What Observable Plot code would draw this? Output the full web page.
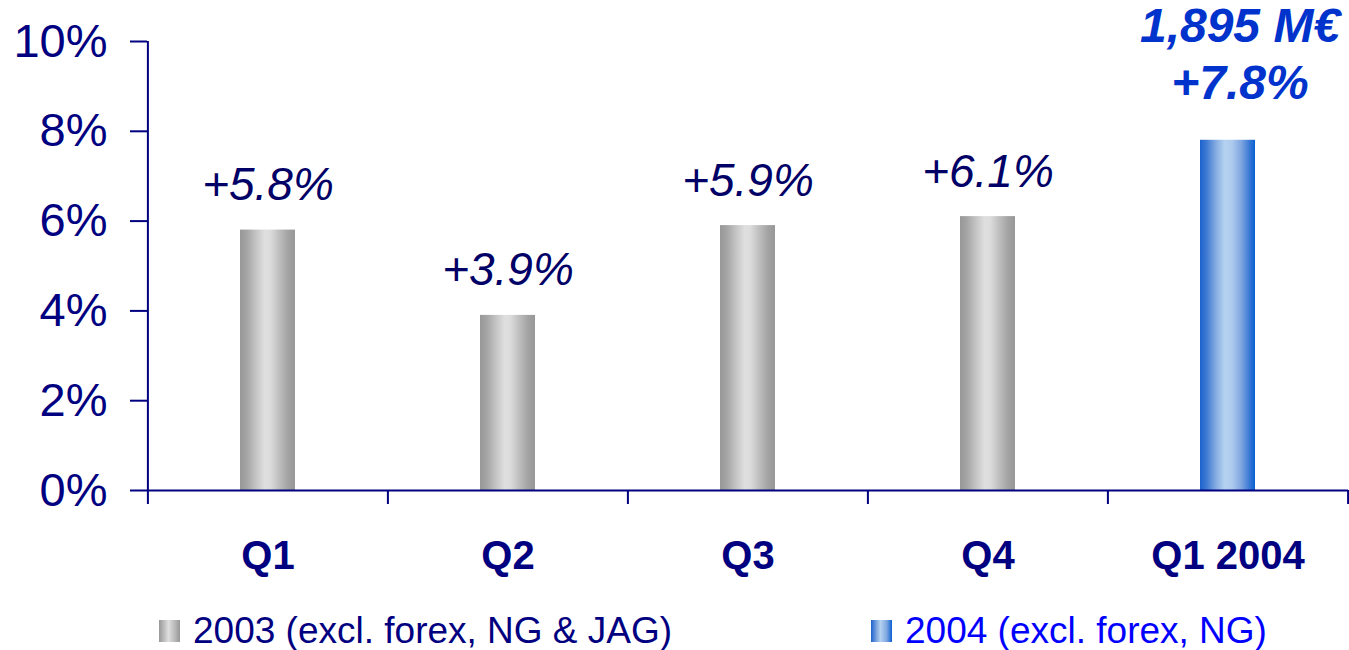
<!DOCTYPE html>
<html>
<head>
<meta charset="utf-8">
<script src="https://cdn.jsdelivr.net/npm/d3@7"></script>
<script src="https://cdn.jsdelivr.net/npm/@observablehq/plot@0.6"></script>
<style>
  html, body { margin: 0; padding: 0; background: #fff; }
  #wrap { position: relative; width: 1349px; height: 650px; overflow: hidden; font-family: "Liberation Sans", Arial, sans-serif; }
  .leg { position: absolute; top: 612px; height: 37px; line-height: 37px; font-size: 37px; white-space: nowrap; }
  .sw { position: absolute; top: 620px; width: 21px; height: 22px; }
</style>
</head>
<body>
<div id="wrap"></div>
<script>
// ---- data ----
const categories = ["Q1", "Q2", "Q3", "Q4", "Q1 2004"];
const values = [5.8, 3.9, 5.9, 6.1, 7.8];
const series = ["2003", "2003", "2003", "2003", "2004"];
const valueLabels = ["+5.8%", "+3.9%", "+5.9%", "+6.1%", "1,895 M€\n+7.8%"];
const yTicks = [0, 2, 4, 6, 8, 10];
const legendLabels = ["2003 (excl. forex, NG & JAG)", "2004 (excl. forex, NG)"];

const data = categories.map((c, i) => ({cat: c, value: values[i], series: series[i], label: valueLabels[i]}));
const d2003 = data.filter(d => d.series === "2003");
const d2004 = data.filter(d => d.series === "2004");

const NAVY = "#000080";
const FONT = "Liberation Sans, Arial, sans-serif";
const W = 1349, H = 600, ML = 147, MR = 1;
const step = (W - ML - MR) / categories.length;

function defs() {
  const d = d3.create("svg:defs");
  const g = d.append("linearGradient").attr("id", "gGray").attr("x1", "0").attr("x2", "1").attr("y1", "0").attr("y2", "0");
  [[0, "#989898"], [0.12, "#a4a4a4"], [0.3, "#c6c6c6"], [0.45, "#dfdfdf"], [0.55, "#dcdcdc"], [0.72, "#bdbdbd"], [0.88, "#a2a2a2"], [1, "#979797"]]
    .forEach(([o, c]) => g.append("stop").attr("offset", o).attr("stop-color", c));
  const b = d.append("linearGradient").attr("id", "gBlue").attr("x1", "0").attr("x2", "1").attr("y1", "0").attr("y2", "0");
  [[0, "#1c62cc"], [0.12, "#3f7ad2"], [0.3, "#88aee2"], [0.45, "#b4d2f0"], [0.58, "#aecbee"], [0.75, "#7fa6e0"], [0.9, "#3a78d6"], [1, "#0a60d0"]]
    .forEach(([o, c]) => b.append("stop").attr("offset", o).attr("stop-color", c));
  return d.node();
}

const chart = Plot.plot({
  width: W,
  height: H,
  marginLeft: ML,
  marginRight: MR,
  marginTop: 41,
  marginBottom: 110,
  style: {fontFamily: FONT, background: "white", color: NAVY, overflow: "visible"},
  x: {domain: categories, paddingInner: 0.77, paddingOuter: 0.385, axis: null, label: null},
  y: {domain: [0, 10], axis: null, label: null},
  marks: [
    defs,
    Plot.barY(d2003, {x: "cat", y: "value", fill: "url(#gGray)"}),
    Plot.barY(d2004, {x: "cat", y: "value", fill: "url(#gBlue)"}),
    Plot.ruleY([0], {stroke: NAVY, strokeWidth: 2}),
    Plot.ruleX([categories[0]], {x: d => d, y1: 0, y2: 10, dx: -step / 2, stroke: NAVY, strokeWidth: 2}),
    Plot.ruleX(categories, {x: d => d, y1: 0, y2: 0, insetBottom: -14, dx: -step / 2, stroke: NAVY, strokeWidth: 2}),
    Plot.ruleX([categories[categories.length - 1]], {x: d => d, y1: 0, y2: 0, insetBottom: -14, dx: step / 2, stroke: NAVY, strokeWidth: 2}),
    Plot.axisY({ticks: yTicks, tickFormat: d => d + "%", tickSize: 17, tickPadding: 23, fontSize: 47, stroke: NAVY, fill: NAVY, strokeWidth: 2, label: null}),
    Plot.axisX({tickSize: 0, tickPadding: 50, fontSize: 40, fontWeight: "bold", fill: NAVY, label: null}),
    Plot.text(d2003, {x: "cat", y: "value", text: "label", dy: -30, lineAnchor: "bottom", fontSize: 46, fontStyle: "italic", fill: "#000066"}),
    Plot.text(d2004, {x: "cat", y: "value", text: "label", dy: -41, dx: 12, lineAnchor: "bottom", lineHeight: 1.19, fontSize: 48, fontStyle: "italic", fontWeight: "bold", fill: "#0033cc"})
  ]
});

const wrap = document.getElementById("wrap");
wrap.appendChild(chart);

// legend below the chart
const legendItems = [
  {label: legendLabels[0], color: NAVY, grad: "linear-gradient(to right,#989898,#c6c6c6 30%,#dfdfdf 45%,#bdbdbd 72%,#979797)", sx: 159, tx: 193},
  {label: legendLabels[1], color: "#0000ff", grad: "linear-gradient(to right,#1c62cc,#88aee2 30%,#b4d2f0 45%,#7fa6e0 75%,#0a60d0)", sx: 871, tx: 905}
];
legendItems.forEach(it => {
  const s = document.createElement("div");
  s.className = "sw";
  s.style.left = it.sx + "px";
  s.style.background = it.grad;
  wrap.appendChild(s);
  const t = document.createElement("div");
  t.className = "leg";
  t.style.left = it.tx + "px";
  t.style.color = it.color;
  t.textContent = it.label;
  wrap.appendChild(t);
});
</script>
</body>
</html>
